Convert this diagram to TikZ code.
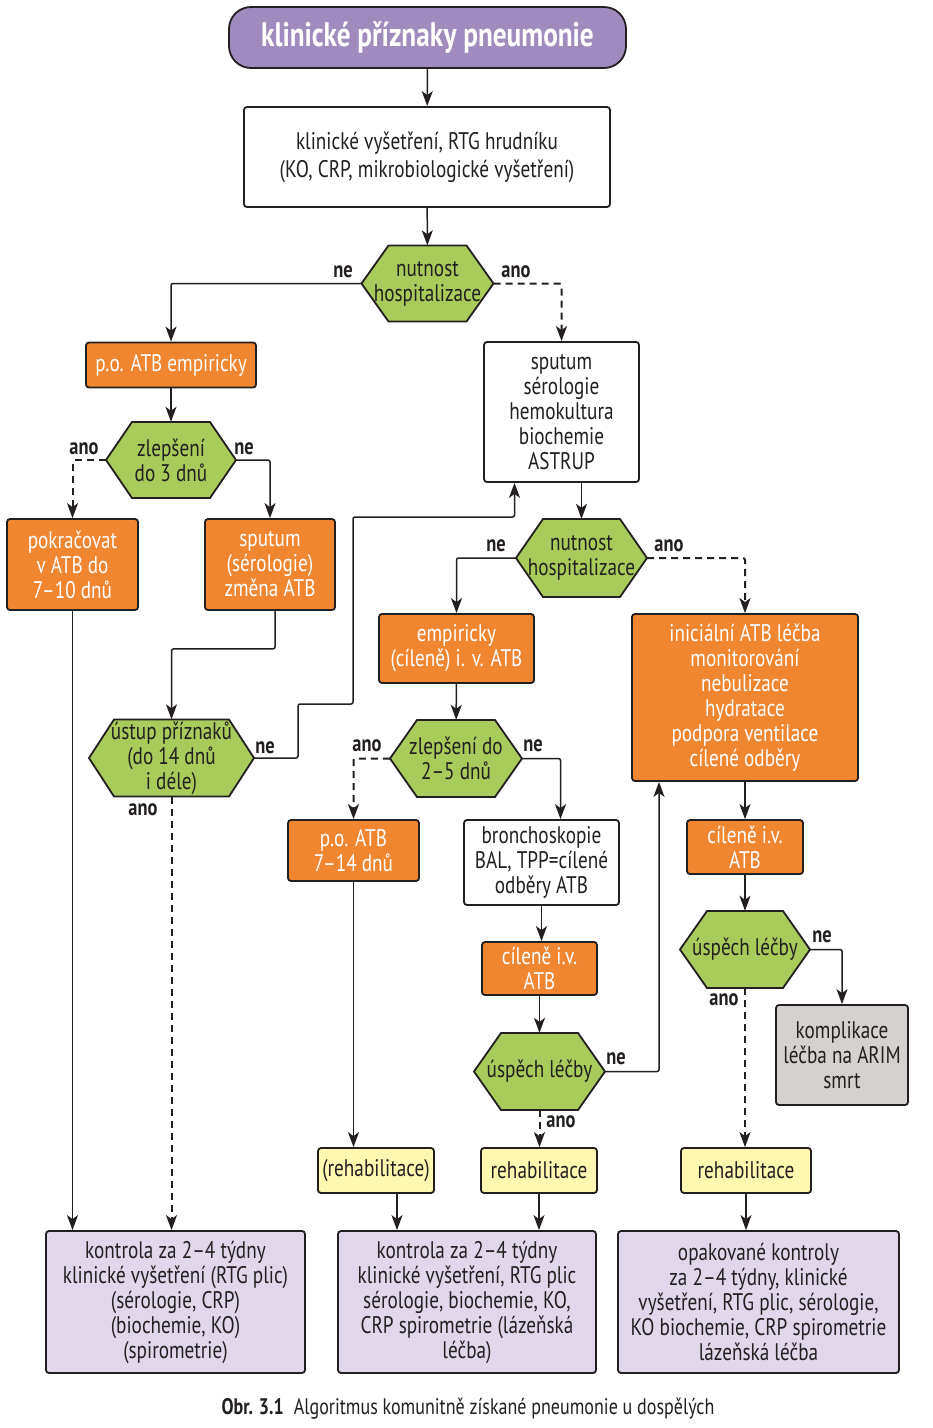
\documentclass[tikz,border=0pt]{standalone}
\usepackage{fontspec}
\setmainfont{PT Sans}[FakeStretch=0.8]
\usetikzlibrary{arrows.meta}
\definecolor{linec}{HTML}{231F20}
\definecolor{orng}{HTML}{F0862F}
\definecolor{grn}{HTML}{A8CB5C}
\definecolor{ylw}{HTML}{FFF8B0}
\definecolor{gry}{HTML}{D4D1CE}
\definecolor{purp}{HTML}{A08BBE}
\definecolor{lpurp}{HTML}{E1D7EA}
\tikzset{
  base/.style={draw=linec, line width=1.8, rounded corners=3, align=center, inner sep=0,
    text=linec, font=\fontsize{24}{25}\selectfont},
  orangebox/.style={base, fill=orng, text=white},
  whitebox/.style={base, fill=white},
  yellowbox/.style={base, fill=ylw},
  graybox/.style={base, fill=gry},
  lilacbox/.style={base, fill=lpurp},
  hextext/.style={inner sep=0, align=center, text=linec, font=\fontsize{24}{25}\selectfont},
  hexline/.style={draw=linec, line width=1.8, fill=grn, line join=miter},
  conn/.style={draw=linec, line width=1.5, rounded corners=2,
    -{Stealth[length=15, width=11, inset=4]}},
  dconn/.style={conn, line width=2, dash pattern=on 7pt off 5pt},
  lbl/.style={font=\bfseries\fontsize{23}{24}\selectfont, text=linec, inner sep=0}
}
% #1 name, #2 x, #3 y, #4 half width, #5 half height, #6 chamfer, #7 text
\newcommand\HexNode[7]{%
  \path[hexline] (#2-#4,#3) -- (#2-#4+#6,#3-#5) -- (#2+#4-#6,#3-#5) -- (#2+#4,#3)
     -- (#2+#4-#6,#3+#5) -- (#2-#4+#6,#3+#5) -- cycle;
  \node[hextext, minimum width=2*#4, minimum height=2*#5] (#1) at (#2,#3) {#7};
}
\begin{document}
\begin{tikzpicture}[x=1pt, y=-1pt]
\useasboundingbox[fill=white] (0,0) rectangle (933,1428);

% nodes
\node[base, fill=purp, rounded corners=22, minimum width=397, minimum height=61,
  text=white, font=\bfseries\fontsize{34}{36}\selectfont] (title) at (427.5,37.5) {klinické příznaky pneumonie};
\node[whitebox, minimum width=366, minimum height=100, font=\fontsize{24}{28}\selectfont] (b1) at (427,157)
  {klinické vyšetření, RTG hrudníku\\(KO, CRP, mikrobiologické vyšetření)};
\HexNode{h1}{427.5}{283.5}{66}{38}{27}{nutnost\\hospitalizace}
\node[orangebox, minimum width=170, minimum height=45] (po) at (171,365) {p.o. ATB empiricky};
\HexNode{h2}{171}{460}{65}{38}{26}{zlepšení\\do 3 dnů}
\node[orangebox, minimum width=131, minimum height=91] (pk) at (72.5,564.5) {pokračovat\\v ATB do\\7–10 dnů};
\node[orangebox, minimum width=130, minimum height=91] (sps) at (270,564.5) {sputum\\(sérologie)\\změna ATB};
\HexNode{h3}{171.5}{758}{82.5}{38.5}{25}{ústup příznaků\\(do 14 dnů\\i déle)}
\node[whitebox, minimum width=155, minimum height=140] (sp) at (561.5,412) {sputum\\sérologie\\hemokultura\\biochemie\\ASTRUP};
\HexNode{h4}{581.5}{558}{65.5}{39}{27}{nutnost\\hospitalizace}
\node[orangebox, minimum width=155, minimum height=69] (emp) at (456.5,648.5) {empiricky\\(cíleně) i. v. ATB};
\HexNode{h5}{456}{758.5}{66}{38.5}{27}{zlepšení do\\2–5 dnů}
\node[orangebox, minimum width=131, minimum height=61] (po2) at (353.5,850.5) {p.o. ATB\\7–14 dnů};
\node[whitebox, minimum width=155, minimum height=85] (br) at (541.5,862.5) {bronchoskopie\\BAL, TPP=cílené\\odběry ATB};
\node[orangebox, minimum width=115, minimum height=53] (ci1) at (539.5,968.5) {cíleně i.v.\\ATB};
\HexNode{h6}{539.5}{1071.5}{65.5}{38.5}{27}{úspěch léčby}
\node[orangebox, minimum width=226, minimum height=167] (ini) at (745,697.5)
  {iniciální ATB léčba\\monitorování\\nebulizace\\hydratace\\podpora ventilace\\cílené odběry};
\node[orangebox, minimum width=116, minimum height=54] (ci2) at (745,847) {cíleně i.v.\\ATB};
\HexNode{h7}{745}{949.5}{65}{38.5}{27}{úspěch léčby}
\node[graybox, minimum width=132, minimum height=100] (km) at (842,1055) {komplikace\\léčba na ARIM\\smrt};
\node[yellowbox, minimum width=116, minimum height=45] (r1) at (376,1170.5) {(rehabilitace)};
\node[yellowbox, minimum width=116, minimum height=45] (r2) at (539,1170.5) {rehabilitace};
\node[yellowbox, minimum width=130, minimum height=45] (r3) at (746,1170.5) {rehabilitace};
\node[lilacbox, minimum width=259, minimum height=142] (k1) at (175.5,1302)
  {kontrola za 2–4 týdny\\klinické vyšetření (RTG plic)\\(sérologie, CRP)\\(biochemie, KO)\\(spirometrie)};
\node[lilacbox, minimum width=258, minimum height=142] (k2) at (467,1302)
  {kontrola za 2–4 týdny\\klinické vyšetření, RTG plic\\sérologie, biochemie, KO,\\CRP spirometrie (lázeňská\\léčba)};
\node[lilacbox, minimum width=281, minimum height=142] (k3) at (758.5,1302)
  {opakované kontroly\\za 2–4 týdny, klinické\\vyšetření, RTG plic, sérologie,\\KO biochemie, CRP spirometrie\\lázeňská léčba};

% labels
\node[lbl] (l1) at (343,272) {ne};
\node[lbl] (l2) at (516,272) {ano};
\node[lbl] (l3) at (84,449) {ano};
\node[lbl] (l4) at (244,449) {ne};
\node[lbl] (l5) at (265,748) {ne};
\node[lbl] (l6) at (143,810) {ano};
\node[lbl] (l7) at (496,546) {ne};
\node[lbl] (l8) at (669,546) {ano};
\node[lbl] (l9) at (367,746) {ano};
\node[lbl] (l10) at (533,746) {ne};
\node[lbl] (l11) at (616,1059) {ne};
\node[lbl] (l12) at (561,1122) {ano};
\node[lbl] (l13) at (822,937) {ne};
\node[lbl] (l14) at (724,1000) {ano};

% caption
\node[inner sep=0, text=linec, font=\fontsize{22.5}{24}\selectfont] (cap) at (468,1409)
  {\textbf{Obr. 3.1}\hspace{10pt}Algoritmus komunitně získané pneumonie u dospělých};

% connectors
\draw[conn] (title) -- (b1);
\draw[conn] (b1) -- (h1);
\draw[conn] (h1.west) -| (po.north);
\draw[dconn] (h1.east) -| (sp.north);
\draw[conn] (po) -- (h2);
\draw[dconn] (h2.west) -| (pk.north);
\draw[conn] (h2.east) -| (sps.north);
\draw[conn] ([xshift=5]sps.south) -- ++(0,38) -| (h3.north);
\draw[conn] (h3.east) -| (298,704) -| (353,517) -| ([xshift=-47]sp.south);
\draw[conn] (pk.south) -- (pk.south |- k1.north);
\draw[dconn] (h3.south) -- (h3.south |- k1.north);
\draw[conn] (h4.north |- sp.south) -- (h4.north);
\draw[conn] (h4.west) -| (emp.north);
\draw[dconn] (h4.east) -| (ini.north);
\draw[conn] (emp) -- (h5);
\draw[dconn] (h5.west) -| (po2.north);
\draw[conn] (h5.east) -| ([xshift=19]br.north);
\draw[conn] (po2.south) -- (po2.south |- r1.north);
\draw[conn] (br.south) -- (br.south |- ci1.north);
\draw[conn] (ci1) -- (h6);
\draw[conn] (h6.east) -| ([xshift=-86]ini.south);
\draw[dconn] (h6.south) -- (h6.south |- r2.north);
\draw[conn] (ini) -- (ci2);
\draw[conn] (ci2) -- (h7);
\draw[conn] (h7.east) -| (km.north);
\draw[dconn] (h7.south) -- (h7.south |- r3.north);
\draw[conn] ([xshift=21]r1.south) -- ([xshift=21]r1.south |- k2.north);
\draw[conn] (r2.south) -- (r2.south |- k2.north);
\draw[conn] (r3.south) -- (r3.south |- k3.north);
\end{tikzpicture}
\end{document}
